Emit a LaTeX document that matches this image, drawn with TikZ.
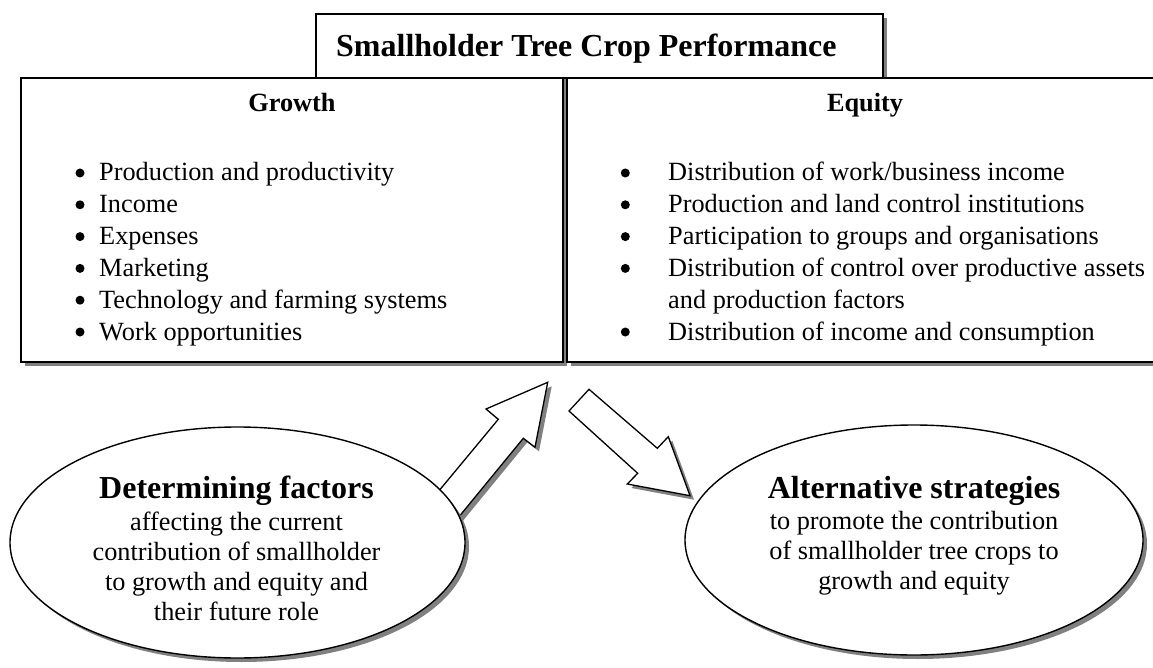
\documentclass[tikz,border=0pt]{standalone}
\usepackage{fontspec}
\setmainfont{Liberation Serif}
\usetikzlibrary{shadows,shapes.geometric,positioning}

\begin{document}
\begin{tikzpicture}[x=1pt, y=-1pt,
  panel/.style={draw, line width=1.6pt, fill=white, inner sep=0,
    drop shadow={shadow xshift=4pt, shadow yshift=-4pt, opacity=1, fill=black!50}},
  bubble/.style={panel, ellipse, line width=1.4pt},
  blockarrow/.style={draw, line width=1.3pt, fill=white, line join=miter,
    drop shadow={shadow xshift=4pt, shadow yshift=-4pt, opacity=1, fill=black!50}},
  bigtitle/.style={font=\fontsize{32}{38}\selectfont\bfseries, inner sep=0},
  colhead/.style={font=\fontsize{26.3}{31.8}\selectfont\bfseries, inner sep=0, anchor=base},
  item/.style={font=\fontsize{26.3}{31.8}\selectfont, inner sep=0, anchor=base west},
  bubbletext/.style={font=\fontsize{26.3}{30}\selectfont, align=center, inner sep=0, anchor=base},
  dot/.style={circle, fill, inner sep=0, minimum size=9}]
\useasboundingbox (0,0) rectangle (1153,668);

% title on top of the two columns
\node[panel, minimum width=567, minimum height=64] (perf) at (599.5,46) {};
\node[bigtitle, anchor=base west] (perftext) at (336,56.7) {Smallholder Tree Crop Performance};

% growth and equity columns
\node[panel, minimum width=542, minimum height=284] (growth) at (292,220) {};
\node[panel, minimum width=596, minimum height=284] (equity) at (865,220) {};

\node[colhead] (growthhead) at (292,112) {Growth};
\node[colhead] (equityhead) at (865,112) {Equity};

\foreach \txt [count=\i] in {Production and productivity, Income, Expenses,
    Marketing, Technology and farming systems, Work opportunities} {
  \node[dot] (gdot\i) at (80,{173+31.8*(\i-1)}) {};
  \node[item] (grow\i) at (99,{181+31.8*(\i-1)}) {\txt};
}

\foreach \n/\txt in {1/{Distribution of work/business income},
    2/{Production and land control institutions},
    3/{Participation to groups and organisations},
    4/{Distribution of control over productive assets},
    6/{Distribution of income and consumption}} {
  \node[dot] (edot\n) at (625.3,{173+31.8*(\n-1)}) {};
  \node[item] (eq\n) at (668,{181+31.8*(\n-1)}) {\txt};
}
\node[item] (eq5) at (668,{181+31.8*4}) {and production factors};

% block arrows, tails go under the ellipses
\draw[blockarrow] (435.4,495.1) -- (498.3,419.3) -- (486,409) -- (547.7,382.3)
  -- (535,447.3) -- (523.3,438.3) -- (455.4,521.1) -- cycle;
\draw[blockarrow] (589,389.3) -- (657.3,448.3) -- (668.3,436.7) -- (690,495.7)
  -- (627.3,484) -- (637.7,473.3) -- (569,411) -- cycle;

% the two ellipses
\node[bubble, minimum width=455, minimum height=231] (factors) at (237.5,542.5) {};
\node[bubble, minimum width=458, minimum height=230] (strategies) at (914,540) {};

% base of a multi-line node is its last line
\node[bigtitle, anchor=base] (factorshead) at (236.5,498) {Determining factors};
\node[bubbletext] (factorstext) at (236.5,620) {affecting the current\\contribution of smallholder\\to growth and equity and\\their future role};

\node[bigtitle, anchor=base] (strathead) at (914,498) {Alternative strategies};
\node[bubbletext] (strattext) at (914,589.5) {to promote the contribution\\of smallholder tree crops to\\growth and equity};

\end{tikzpicture}
\end{document}
